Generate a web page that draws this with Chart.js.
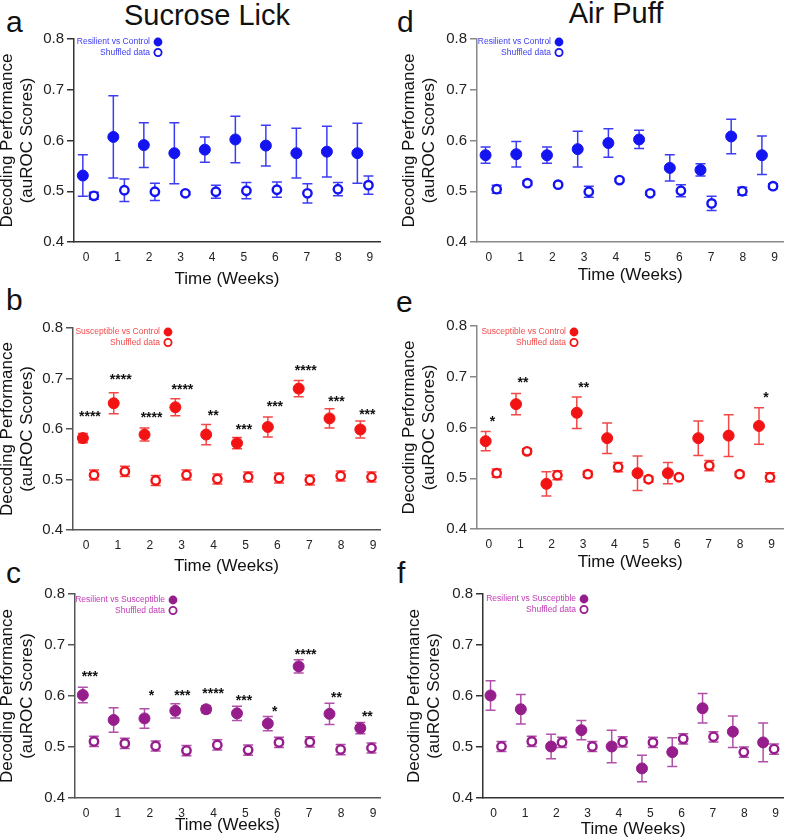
<!DOCTYPE html>
<html>
<head>
<meta charset="utf-8">
<script src="https://cdn.jsdelivr.net/npm/chart.js@4.4.0/dist/chart.umd.min.js"></script>
<style>
  body { margin: 0; background: #fff; width: 790px; height: 840px; position: relative; overflow: hidden;
         font-family: "Liberation Sans", Arial, sans-serif; color: #111; }
  .head { position: absolute; width: 400px; text-align: center; font-size: 29px; line-height: 29px; white-space: nowrap; }
  .letter { position: absolute; font-size: 30px; line-height: 30px; }
</style>
</head>
<body>
<div class="head" style="left:7px;top:1px">Sucrose Lick</div>
<div class="head" style="left:416px;top:-1px">Air Puff</div>
<div class="letter" style="left:6px;top:7px">a</div>
<div class="letter" style="left:6px;top:285px">b</div>
<div class="letter" style="left:6px;top:558px">c</div>
<div class="letter" style="left:397px;top:7px">d</div>
<div class="letter" style="left:396px;top:287px">e</div>
<div class="letter" style="left:397px;top:558px">f</div>

<script>
// ---- data ----
const weeks = [0, 1, 2, 3, 4, 5, 6, 7, 8, 9];
const yTicks = [0.4, 0.5, 0.6, 0.7, 0.8];

// a: sucrose lick, resilient vs control
const sucResMean = [0.531, 0.607, 0.591, 0.575, 0.582, 0.602, 0.590, 0.575, 0.578, 0.575];
const sucResSem = [0.041, 0.081, 0.044, 0.060, 0.025, 0.046, 0.040, 0.049, 0.050, 0.059];
const sucResShuf = [0.491, 0.502, 0.499, 0.496, 0.499, 0.501, 0.503, 0.496, 0.504, 0.512];
const sucResShufSem = [0.007, 0.022, 0.017, 0.003, 0.013, 0.016, 0.015, 0.019, 0.013, 0.018];

// b: sucrose lick, susceptible vs control
const sucSusMean = [0.582, 0.651, 0.589, 0.643, 0.589, 0.572, 0.604, 0.680, 0.621, 0.599];
const sucSusSem = [0.009, 0.021, 0.013, 0.017, 0.020, 0.011, 0.020, 0.016, 0.019, 0.017];
const sucSusShuf = [0.509, 0.516, 0.498, 0.509, 0.501, 0.505, 0.503, 0.499, 0.507, 0.505];
const sucSusShufSem = [0.010, 0.010, 0.010, 0.010, 0.010, 0.010, 0.010, 0.010, 0.010, 0.010];
const sucSusStars = ['****', '****', '****', '****', '**', '***', '***', '****', '***', '***'];
const sucSusStarY = [0.632, 0.705, 0.630, 0.685, 0.634, 0.605, 0.652, 0.723, 0.661, 0.636];

// c: sucrose lick, resilient vs susceptible
const sucRvsMean = [0.602, 0.553, 0.556, 0.571, 0.574, 0.566, 0.546, 0.658, 0.565, 0.537];
const sucRvsSem = [0.015, 0.024, 0.019, 0.014, 0.007, 0.014, 0.014, 0.013, 0.021, 0.011];
const sucRvsShuf = [0.511, 0.507, 0.502, 0.493, 0.504, 0.494, 0.509, 0.510, 0.495, 0.498];
const sucRvsShufSem = [0.010, 0.010, 0.010, 0.010, 0.010, 0.010, 0.010, 0.010, 0.010, 0.010];
const sucRvsStars = ['***', '', '*', '***', '****', '***', '*', '****', '**', '**'];
const sucRvsStarY = [0.645, null, 0.607, 0.608, 0.611, 0.599, 0.576, 0.688, 0.604, 0.566];

// d: air puff, resilient vs control
const airResMean = [0.571, 0.573, 0.571, 0.583, 0.595, 0.602, 0.546, 0.542, 0.608, 0.571];
const airResSem = [0.016, 0.025, 0.016, 0.035, 0.028, 0.018, 0.026, 0.012, 0.034, 0.038];
const airResShuf = [0.504, 0.516, 0.513, 0.499, 0.522, 0.496, 0.501, 0.476, 0.500, 0.510];
const airResShufSem = [0.008, 0.004, 0.003, 0.011, 0.003, 0.004, 0.012, 0.014, 0.008, 0.005];

// e: air puff, susceptible vs control
const airSusMean = [0.573, 0.646, 0.489, 0.629, 0.579, 0.510, 0.510, 0.579, 0.584, 0.603];
const airSusSem = [0.019, 0.021, 0.024, 0.031, 0.030, 0.034, 0.021, 0.034, 0.041, 0.036];
const airSusShuf = [0.510, 0.553, 0.506, 0.508, 0.522, 0.498, 0.502, 0.525, 0.508, 0.502];
const airSusShufSem = [0.008, 0.005, 0.009, 0.006, 0.009, 0.006, 0.004, 0.010, 0.005, 0.009];
const airSusStars = ['*', '**', '', '**', '', '', '', '', '', '*'];
const airSusStarY = [0.618, 0.695, null, 0.685, null, null, null, null, null, 0.666];

// f: air puff, resilient vs susceptible
const airRvsMean = [0.601, 0.574, 0.501, 0.533, 0.501, 0.458, 0.490, 0.576, 0.530, 0.509];
const airRvsSem = [0.029, 0.029, 0.024, 0.019, 0.032, 0.026, 0.028, 0.029, 0.031, 0.038];
const airRvsShuf = [0.501, 0.511, 0.509, 0.501, 0.510, 0.509, 0.516, 0.520, 0.490, 0.496];
const airRvsShufSem = [0.010, 0.010, 0.010, 0.010, 0.010, 0.010, 0.010, 0.010, 0.010, 0.010];

const shuffledLabel = 'Shuffled data';

// ---- style ----
const FONT = '"Liberation Sans", Arial, sans-serif';
const spread = 0.967;      // filled/hollow pairs sit a bit tighter than the tick labels
const filledShift = -0.1;
const hollowShift = 0.25;
const starShift = 0.22;

const blue = { color: '#1414f0', bar: '#3c3cf5', text: '#3c3cf0' };
const red = { color: '#f21414', bar: '#f24848', text: '#f54a4a' };
const purple = { color: '#951e8c', bar: '#b050a8', text: '#c03ab5' };

// area = [left, top, right, bottom] of the plot area in page pixels
const panels = [
  { col: 0, area: [74, 39, 380, 242], xRange: [-0.38, 9.32], xH: 48, titlePad: -3, axis: '#333', pal: blue,
    label: 'Resilient vs Control', legendAt: [84, 3],
    mean: sucResMean, sem: sucResSem, shuf: sucResShuf, shufSem: sucResShufSem },
  { col: 0, area: [73, 328, 380, 530], xRange: [-0.41, 9.22], xH: 47, titlePad: -3, axis: '#555', pal: red,
    label: 'Susceptible vs Control', legendAt: [95, 4],
    mean: sucSusMean, sem: sucSusSem, shuf: sucSusShuf, shufSem: sucSusShufSem, stars: sucSusStars, starY: sucSusStarY },
  { col: 0, area: [75, 594, 380, 798], xRange: [-0.345, 9.22], xH: 38, titlePad: -3, axis: '#555', pal: purple,
    label: 'Resilient vs Susceptible', legendAt: [98, 6],
    mean: sucRvsMean, sem: sucRvsSem, shuf: sucRvsShuf, shufSem: sucRvsShufSem, stars: sucRvsStars, starY: sucRvsStarY },
  { col: 1, area: [477, 39, 785, 242], xRange: [-0.37, 9.28], xH: 44, titlePad: 4, axis: '#888', pal: blue,
    label: 'Resilient vs Control', legendAt: [82, 3],
    mean: airResMean, sem: airResSem, shuf: airResShuf, shufSem: airResShufSem },
  { col: 1, area: [477, 326, 788, 529], xRange: [-0.376, 9.38], xH: 44, titlePad: 4, axis: '#888', pal: red,
    label: 'Susceptible vs Control', legendAt: [97, 6],
    mean: airSusMean, sem: airSusSem, shuf: airSusShuf, shufSem: airSusShufSem, stars: airSusStars, starY: airSusStarY },
  { col: 1, area: [483, 594, 790, 798], xRange: [-0.34, 9.25], xH: 42, titlePad: 9, axis: '#333', pal: purple,
    label: 'Resilient vs Susceptible', legendAt: [101, 5],
    mean: airRvsMean, sem: airRvsSem, shuf: airRvsShuf, shufSem: airRvsShufSem }
];

// error bars (mean +/- SEM) drawn under the markers
const errorBars = {
  id: 'errorBars',
  beforeDatasetsDraw(chart) {
    const { ctx, scales: { x, y } } = chart;
    chart.data.datasets.forEach(ds => {
      ctx.save();
      ctx.strokeStyle = ds.barColor;
      ctx.lineWidth = 1.5;
      ds.data.forEach((p, j) => {
        const px = x.getPixelForValue(p.x);
        const top = y.getPixelForValue(p.y + ds.sem[j]);
        const bot = y.getPixelForValue(p.y - ds.sem[j]);
        ctx.beginPath();
        ctx.moveTo(px, top); ctx.lineTo(px, bot);
        ctx.moveTo(px - 5, top); ctx.lineTo(px + 5, top);
        ctx.moveTo(px - 5, bot); ctx.lineTo(px + 5, bot);
        ctx.stroke();
      });
      ctx.restore();
    });
  }
};

// significance asterisks
const starLabels = {
  id: 'starLabels',
  afterDatasetsDraw(chart, args, opts) {
    if (!opts.stars) return;
    const { ctx, scales: { x, y } } = chart;
    ctx.save();
    ctx.font = 'bold 14px ' + FONT;
    ctx.fillStyle = '#111';
    ctx.textAlign = 'center';
    ctx.textBaseline = 'alphabetic';
    opts.stars.forEach((s, i) => {
      if (!s) return;
      const px = x.getPixelForValue(weeks[i] * spread + filledShift + starShift);
      const py = y.getPixelForValue(opts.starY[i]);
      ctx.fillText(s, px, py + 8);
    });
    ctx.restore();
  }
};

// small legend in the top-left corner of each plot
const inlineLegend = {
  id: 'inlineLegend',
  afterDraw(chart, args, o) {
    const { ctx, chartArea } = chart;
    const mx = chartArea.left + o.at[0];
    const my = chartArea.top + o.at[1];
    const gap = 10.5;
    ctx.save();
    ctx.font = '8.5px ' + FONT;
    ctx.textAlign = 'right';
    ctx.textBaseline = 'middle';
    ctx.fillStyle = o.textColor;
    ctx.fillText(o.label, mx - 8, my);
    ctx.fillText(shuffledLabel, mx - 8, my + gap);
    ctx.fillStyle = o.color;
    ctx.beginPath(); ctx.arc(mx, my, 4.4, 0, Math.PI * 2); ctx.fill();
    ctx.strokeStyle = o.color;
    ctx.lineWidth = 1.8;
    ctx.beginPath(); ctx.arc(mx, my + gap, 3.6, 0, Math.PI * 2); ctx.stroke();
    ctx.restore();
  }
};

panels.forEach(p => {
  const [L, T, R, B] = p.area;
  const left = p.col * 395;
  const canvas = document.createElement('canvas');
  canvas.width = 395;
  canvas.height = B - T + 12 + p.xH;
  canvas.style.cssText = `position:absolute;left:${left}px;top:${T - 12}px;`;
  document.body.appendChild(canvas);

  new Chart(canvas, {
    type: 'scatter',
    data: {
      datasets: [
        {
          data: weeks.map((w, i) => ({ x: w * spread + filledShift, y: p.mean[i] })),
          sem: p.sem, barColor: p.pal.bar,
          pointRadius: 5.5, backgroundColor: p.pal.color, borderColor: p.pal.color, borderWidth: 1
        },
        {
          data: weeks.map((w, i) => ({ x: w * spread + hollowShift, y: p.shuf[i] })),
          sem: p.shufSem, barColor: p.pal.bar,
          pointRadius: 4.2, backgroundColor: '#ffffff', borderColor: p.pal.color, borderWidth: 2.4
        }
      ]
    },
    options: {
      responsive: false,
      animation: false,
      events: [],
      layout: { padding: { top: 12, left: 0, bottom: 0, right: left + 395 - R } },
      plugins: {
        legend: { display: false },
        tooltip: { enabled: false },
        starLabels: { stars: p.stars, starY: p.starY },
        inlineLegend: { at: p.legendAt, label: p.label, color: p.pal.color, textColor: p.pal.text }
      },
      scales: {
        x: {
          type: 'linear',
          min: p.xRange[0],
          max: p.xRange[1],
          afterBuildTicks: s => { s.ticks = weeks.map(v => ({ value: v })); },
          afterFit: s => { s.height = p.xH; },
          grid: { display: false, drawTicks: false },
          border: { display: true, color: p.axis, width: 1.5 },
          ticks: { font: { family: FONT, size: 12 }, color: '#222', padding: 8, maxRotation: 0,
                   callback: v => String(v) },
          title: { display: true, text: 'Time (Weeks)', font: { family: FONT, size: 17 }, color: '#111',
                   padding: { top: 0, bottom: 0 } }
        },
        y: {
          min: 0.4,
          max: 0.8,
          afterBuildTicks: s => { s.ticks = yTicks.map(v => ({ value: v })); },
          afterFit: s => { s.width = L - left; },
          grid: { display: true, drawOnChartArea: false, drawTicks: true, tickLength: 7, color: p.axis, lineWidth: 1.5 },
          border: { display: true, color: p.axis, width: 1.5 },
          ticks: { font: { family: FONT, size: 15 }, color: '#222', padding: 3, callback: v => v.toFixed(1) },
          title: { display: true, text: ['Decoding Performance', '(auROC Scores)'],
                   font: { family: FONT, size: 17 }, color: '#111', padding: { top: p.titlePad, bottom: 0 } }
        }
      }
    },
    plugins: [errorBars, starLabels, inlineLegend]
  });
});
</script>
</body>
</html>
